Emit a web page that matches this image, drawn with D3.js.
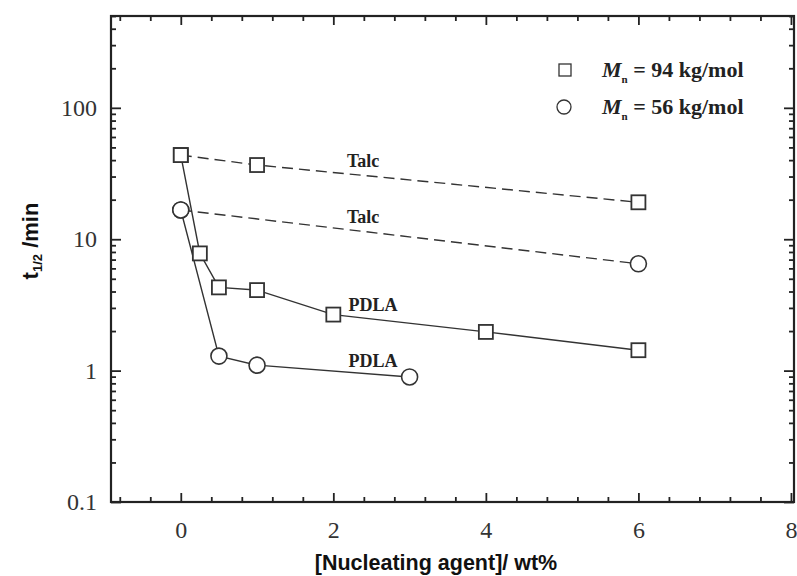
<!DOCTYPE html>
<html>
<head>
<meta charset="utf-8">
<script src="https://cdn.jsdelivr.net/npm/d3@7"></script>
<style>
  body { margin: 0; background: #fff; }
  svg { display: block; }
</style>
</head>
<body>
<svg id="chart" width="797" height="576"></svg>
<script>
// data
const talc94X = [0, 1, 6];
const talc94Y = [43.7, 36.7, 19.1];
const talc56X = [0, 6];
const talc56Y = [16.7, 6.5];
const pdla94X = [0, 0.25, 0.5, 1, 2, 4, 6];
const pdla94Y = [43.7, 7.8, 4.3, 4.1, 2.67, 1.97, 1.43];
const pdla56X = [0, 0.5, 1, 3];
const pdla56Y = [16.7, 1.29, 1.1, 0.895];

const xTicks = [0, 2, 4, 6, 8];
const yTicks = [0.1, 1, 10, 100];
const yTickLabels = ["0.1", "1", "10", "100"];

const margin = {top: 16, right: 3, bottom: 74, left: 111};
const svg = d3.select("#chart");
const width = 797, height = 576;

const x = d3.scaleLinear().domain([-0.915, 8.04])
  .range([margin.left, width - margin.right]);
const y = d3.scaleLog().domain([0.1, 500])
  .range([height - margin.bottom, margin.top]);

const ink = "#222";
const serif = "Liberation Serif, Times New Roman, serif";
const sans = "Liberation Sans, Arial, sans-serif";

// minor ticks
const xMinor = d3.range(-0.8, 8.01, 0.4).map(v => +v.toFixed(1))
  .filter(v => xTicks.indexOf(v) === -1 && Math.abs(v) > 1e-6);
const yMinor = [];
[0.1, 1, 10, 100].forEach(d => {
  for (let k = 2; k <= 9; k++) {
    if (d * k <= 500) yMinor.push(d * k);
  }
});

function drawAxis(axisFn, scale, tx, ty, values, size, fmt, pad) {
  const g = svg.append("g")
    .attr("transform", `translate(${tx},${ty})`)
    .call(axisFn(scale).tickValues(values).tickSize(size)
      .tickPadding(pad || 14).tickFormat(fmt));
  g.select(".domain").remove();
  g.selectAll("line").attr("stroke", ink).attr("stroke-width", 1.8);
  return g;
}

const bottomY = height - margin.bottom;
const noLabel = () => "";

// bottom
const xb = drawAxis(d3.axisBottom, x, 0, bottomY, xTicks, -9, d => d, 19);
xb.selectAll("text").attr("font-family", serif)
  .attr("font-size", 24).attr("fill", "#333");
drawAxis(d3.axisBottom, x, 0, bottomY, xMinor, -5, noLabel);
// top
drawAxis(d3.axisTop, x, 0, margin.top, xTicks, -9, noLabel);
drawAxis(d3.axisTop, x, 0, margin.top, xMinor, -5, noLabel);
// left
const yl = drawAxis(d3.axisLeft, y, margin.left, 0, yTicks, -10, (d, i) => yTickLabels[i], 14);
yl.selectAll("text").attr("font-family", serif)
  .attr("font-size", 24).attr("fill", "#333");
drawAxis(d3.axisLeft, y, margin.left, 0, yMinor, -5, noLabel);
// right
drawAxis(d3.axisRight, y, width - margin.right, 0, yTicks, -10, noLabel);
drawAxis(d3.axisRight, y, width - margin.right, 0, yMinor, -5, noLabel);

// frame
svg.append("rect")
  .attr("x", margin.left).attr("y", margin.top)
  .attr("width", width - margin.right - margin.left)
  .attr("height", height - margin.bottom - margin.top)
  .attr("fill", "none").attr("stroke", ink).attr("stroke-width", 2.2);

// lines
const line = d3.line().x(d => x(d[0])).y(d => y(d[1]));
function series(xs, ys, dashed) {
  const pts = xs.map((v, i) => [v, ys[i]]);
  svg.append("path").datum(pts)
    .attr("d", line).attr("fill", "none")
    .attr("stroke", "#333").attr("stroke-width", 1.4)
    .attr("stroke-dasharray", dashed ? "11,6" : null);
  return pts;
}
const pT94 = series(talc94X, talc94Y, true);
const pT56 = series(talc56X, talc56Y, true);
const pP94 = series(pdla94X, pdla94Y, false);
const pP56 = series(pdla56X, pdla56Y, false);

function squares(pts) {
  svg.append("g").selectAll("rect").data(pts).join("rect")
    .attr("x", d => x(d[0]) - 7).attr("y", d => y(d[1]) - 7)
    .attr("width", 14).attr("height", 14)
    .attr("fill", "#fff").attr("stroke", "#333").attr("stroke-width", 1.8);
}
function circles(pts) {
  svg.append("g").selectAll("circle").data(pts).join("circle")
    .attr("cx", d => x(d[0])).attr("cy", d => y(d[1])).attr("r", 8)
    .attr("fill", "#fff").attr("stroke", "#333").attr("stroke-width", 1.6);
}
squares(pT94); squares(pP94);
circles(pT56); circles(pP56);

// in-plot labels
function note(t, xv, yv) {
  svg.append("text").attr("x", x(xv)).attr("y", y(yv))
    .attr("text-anchor", "middle").attr("font-family", serif)
    .attr("font-weight", "bold").attr("font-size", 18).attr("fill", "#222")
    .text(t);
}
note("Talc", 2.39, 35.4);
note("Talc", 2.39, 13.4);
note("PDLA", 2.52, 2.83);
note("PDLA", 2.52, 1.06);

// legend
const legend = [
  {shape: "square", val: "94", cy: 70},
  {shape: "circle", val: "56", cy: 107}
];
legend.forEach(l => {
  if (l.shape === "square") {
    svg.append("rect").attr("x", 559).attr("y", l.cy - 6)
      .attr("width", 12).attr("height", 12)
      .attr("fill", "#fff").attr("stroke", "#333").attr("stroke-width", 1.3);
  } else {
    svg.append("circle").attr("cx", 564).attr("cy", l.cy).attr("r", 7)
      .attr("fill", "#fff").attr("stroke", "#333").attr("stroke-width", 1.3);
  }
  const t = svg.append("text").attr("x", 602).attr("y", l.cy + 7)
    .attr("font-family", serif).attr("font-weight", "bold")
    .attr("font-size", 22).attr("fill", "#222");
  t.append("tspan").attr("font-style", "italic").text("M");
  t.append("tspan").attr("font-size", 11).attr("dy", 6).text("n");
  t.append("tspan").attr("dy", -6).text(` = ${l.val} kg/mol`);
});

// axis titles
svg.append("text").attr("x", 436).attr("y", 570)
  .attr("text-anchor", "middle").attr("font-family", sans)
  .attr("font-weight", "bold").attr("font-size", 21.5).attr("fill", "#111")
  .text("[Nucleating agent]/ wt%");

const yt = svg.append("text")
  .attr("transform", `translate(38,241) rotate(-90)`)
  .attr("text-anchor", "middle").attr("font-family", sans)
  .attr("font-weight", "bold").attr("font-size", 22).attr("fill", "#111");
yt.append("tspan").text("t");
yt.append("tspan").attr("font-size", 13).attr("dy", 4).text("1/2");
yt.append("tspan").attr("dy", -4).text(" /min");
</script>
</body>
</html>
